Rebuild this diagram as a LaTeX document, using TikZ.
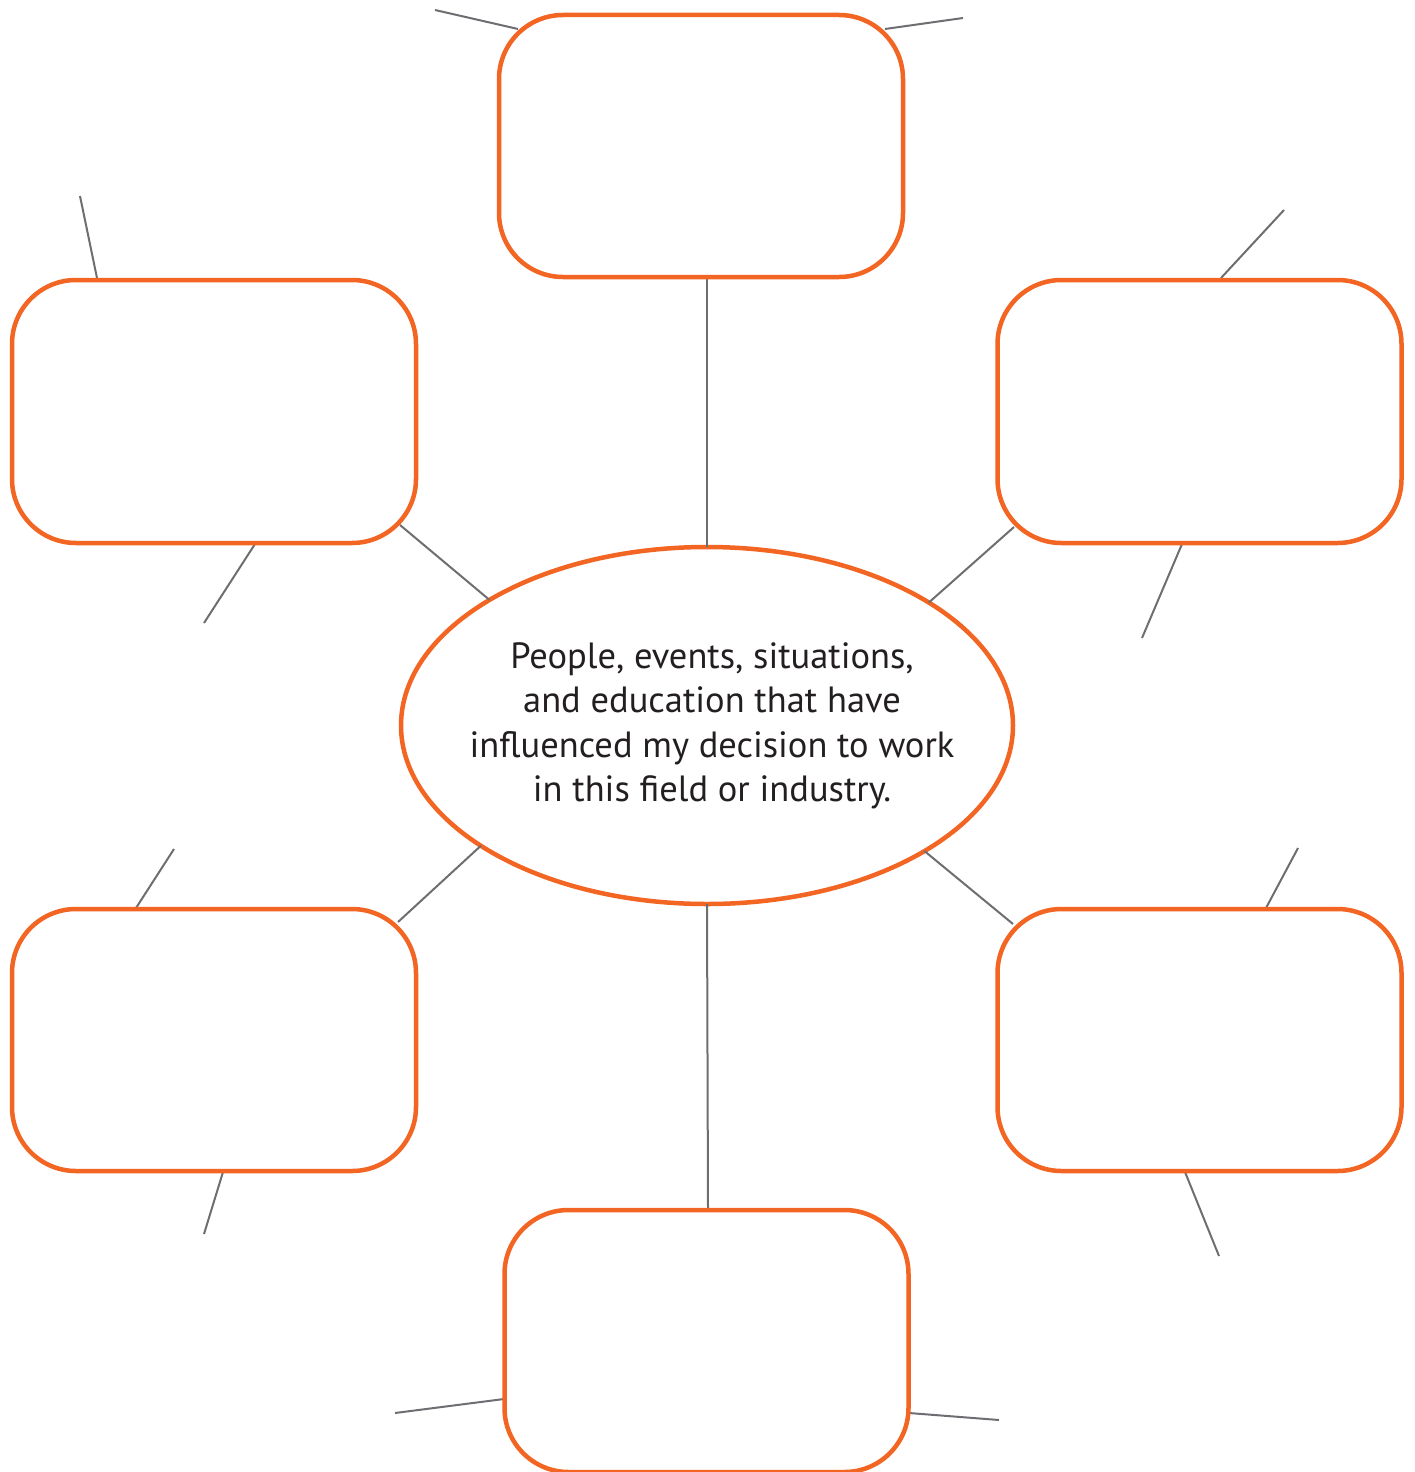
\documentclass[tikz,border=0pt]{standalone}
\usepackage{fontspec}
\setmainfont{PT Sans}
\usetikzlibrary{shapes.geometric}
\definecolor{orng}{HTML}{F26522}
\definecolor{gry}{HTML}{6D6E71}
\definecolor{txt}{HTML}{231F20}
\tikzset{
  box/.style={draw=orng, line width=4.5pt, rounded corners=64pt, rectangle,
    minimum width=404pt, minimum height=263pt, inner sep=0pt, outer sep=0pt, fill=white},
  hub/.style={draw=orng, line width=4.5pt, ellipse, minimum width=612pt, minimum height=357pt,
    inner sep=0pt, outer sep=0pt, fill=white},
  link/.style={draw=gry, line width=2pt},
}
\begin{document}
\begin{tikzpicture}[x=1pt,y=-1pt]
\useasboundingbox (0,0) rectangle (1414,1472);
% free-end coordinates and attach points
\coordinate (tL1) at (435,10);   \coordinate (tL2) at (518,29);
\coordinate (tR1) at (963,18);   \coordinate (tR2) at (885,29);
\coordinate (ulT1) at (80,196);  \coordinate (ulT2) at (97,278);
\coordinate (ulB1) at (204,623); \coordinate (ulB2) at (255,544);
\coordinate (urT1) at (1284,210);\coordinate (urT2) at (1221,278);
\coordinate (urB1) at (1142,638);\coordinate (urB2) at (1182,544);
\coordinate (llT1) at (174,849); \coordinate (llT2) at (136,908);
\coordinate (llB1) at (204,1234);\coordinate (llB2) at (223,1172);
\coordinate (lrT1) at (1298,848);\coordinate (lrT2) at (1266,908);
\coordinate (lrB1) at (1219,1256);\coordinate (lrB2) at (1185,1172);
\coordinate (bL1) at (395,1413); \coordinate (bL2) at (504,1399);
\coordinate (bR1) at (999,1420); \coordinate (bR2) at (909,1413);
\coordinate (ulA) at (400,525);  \coordinate (urA) at (1014,527);
\coordinate (llA) at (398,922);  \coordinate (lrA) at (1013,924);
\coordinate (tA) at (707,277);   \coordinate (bA) at (708,1209);

\node[hub] (ell) at (707,725.5) {};

\draw[link] (tA) -- (ell.90);
\draw[link] (ell.270) -- (bA);
\draw[link] (ell.150.5) -- (ulA);
\draw[link] (ell.29.4) -- (urA);
\draw[link] (ell.208.7) -- (llA);
\draw[link] (ell.330.8) -- (lrA);
\draw[link] (tL1) -- (tL2);
\draw[link] (tR1) -- (tR2);
\draw[link] (ulT1) -- (ulT2);
\draw[link] (ulB1) -- (ulB2);
\draw[link] (urT1) -- (urT2);
\draw[link] (urB1) -- (urB2);
\draw[link] (llT1) -- (llT2);
\draw[link] (llB1) -- (llB2);
\draw[link] (lrT1) -- (lrT2);
\draw[link] (lrB1) -- (lrB2);
\draw[link] (bL1) -- (bL2);
\draw[link] (bR1) -- (bR2);

\node[box, minimum height=262pt] (top) at (701,146) {};
\node[box] (ul) at (214,411.5) {};
\node[box] (ur) at (1199.5,411.5) {};
\node[box, minimum height=262pt] (ll) at (214,1040) {};
\node[box, minimum height=262pt] (lr) at (1199.5,1040) {};
\node[box, minimum height=262pt] (bot) at (706.5,1341) {};

\node[align=center, text=txt, font={\fontsize{36.5}{44.5}\selectfont}] (lbl) at (712,726)
  {People, events, situations,\\and education that have\\influenced my decision to work\\in this field or industry.};
\end{tikzpicture}
\end{document}
